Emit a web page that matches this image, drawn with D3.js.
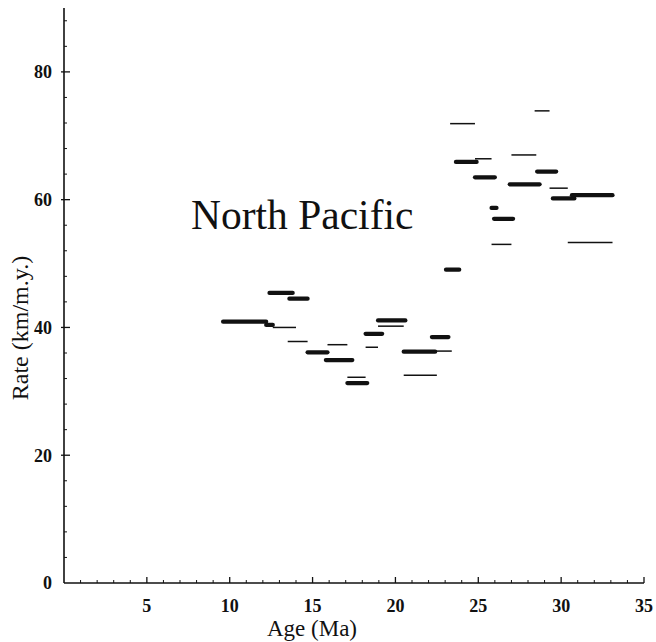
<!DOCTYPE html>
<html>
<head>
<meta charset="utf-8">
<script src="https://cdn.jsdelivr.net/npm/d3@7"></script>
<style>
  html, body { margin: 0; padding: 0; background: #fff; }
  svg { display: block; }
</style>
</head>
<body>
<svg id="chart" width="656" height="642"></svg>
<script>
// ---- data ----
const segStart = [9.6, 12.2, 12.6, 12.4, 13.6, 13.5, 14.7, 15.9, 15.8, 17.1, 17.1, 18.2, 18.2, 18.95, 18.95, 20.5, 22.4, 20.5, 22.2, 23.05, 23.3, 23.65, 24.8, 24.8, 25.8, 25.95, 25.8, 26.9, 27.0, 28.4, 28.55, 29.3, 29.5, 30.65, 30.4];
const segEnd   = [12.2, 12.6, 14.0, 13.8, 14.7, 14.7, 15.9, 17.1, 17.4, 18.2, 18.3, 19.2, 18.95, 20.6, 20.5, 22.4, 23.4, 22.5, 23.2, 23.85, 24.8, 24.9, 25.8, 26.0, 26.1, 27.1, 27.0, 28.7, 28.5, 29.3, 29.7, 30.4, 30.8, 33.1, 33.1];
const segRate  = [40.9, 40.4, 40.0, 45.4, 44.5, 37.8, 36.1, 37.3, 34.9, 32.2, 31.3, 39.0, 36.9, 41.1, 40.2, 36.2, 36.3, 32.5, 38.5, 49.05, 71.9, 65.9, 66.4, 63.5, 58.7, 57.0, 53.0, 62.4, 67.0, 73.9, 64.4, 61.8, 60.2, 60.7, 53.3];
const segThick = [1, 1, 0, 1, 1, 0, 1, 0, 1, 0, 1, 1, 0, 1, 0, 1, 0, 0, 1, 1, 0, 1, 0, 1, 1, 1, 0, 1, 0, 0, 1, 0, 1, 1, 0];

const xMajorTicks = [5, 10, 15, 20, 25, 30, 35];
const yMajorTicks = [0, 20, 40, 60, 80];
const xDomain = [0, 35];
const yDomain = [0, 90];
const titleText = "North Pacific";
const xLabel = "Age (Ma)";
const yLabel = "Rate (km/m.y.)";

// ---- drawing ----
const svg = d3.select("#chart");
const mLeft = 64, mRight = 644, mTop = 8, mBottom = 583;

const x = d3.scaleLinear().domain(xDomain).range([mLeft, mRight]);
const y = d3.scaleLinear().domain(yDomain).range([mBottom, mTop]);

const ink = "#111";

// axes lines
svg.append("line").attr("x1", mLeft).attr("x2", mLeft).attr("y1", mTop).attr("y2", mBottom)
  .attr("stroke", ink).attr("stroke-width", 1.6);
svg.append("line").attr("x1", mLeft).attr("x2", mRight).attr("y1", mBottom).attr("y2", mBottom)
  .attr("stroke", ink).attr("stroke-width", 1.6);

// x minor ticks (every 1 unit) and major ticks
const xMinor = d3.range(1, 36).filter(v => v % 5 !== 0);
svg.append("g").selectAll("line").data(xMinor).join("line")
  .attr("x1", d => x(d)).attr("x2", d => x(d))
  .attr("y1", mBottom).attr("y2", mBottom - 3)
  .attr("stroke", ink).attr("stroke-width", 1);
svg.append("g").selectAll("line").data(xMajorTicks).join("line")
  .attr("x1", d => x(d)).attr("x2", d => x(d))
  .attr("y1", mBottom).attr("y2", mBottom - 6)
  .attr("stroke", ink).attr("stroke-width", 1.3);

// y minor ticks (every 4 units) and major
const yMinor = d3.range(4, 90, 4).filter(v => v % 20 !== 0);
svg.append("g").selectAll("line").data(yMinor).join("line")
  .attr("x1", mLeft).attr("x2", mLeft + 3)
  .attr("y1", d => y(d)).attr("y2", d => y(d))
  .attr("stroke", ink).attr("stroke-width", 1);
svg.append("g").selectAll("line").data(yMajorTicks.filter(v => v > 0)).join("line")
  .attr("x1", mLeft - 3).attr("x2", mLeft + 6)
  .attr("y1", d => y(d)).attr("y2", d => y(d))
  .attr("stroke", ink).attr("stroke-width", 1.3);

// tick labels
const serif = "'Liberation Serif', 'Times New Roman', serif";
svg.append("g").selectAll("text").data(xMajorTicks).join("text")
  .attr("x", d => x(d)).attr("y", 612)
  .attr("text-anchor", "middle")
  .attr("font-family", serif).attr("font-weight", "bold").attr("font-size", 18)
  .attr("fill", ink)
  .text(d => d);
svg.append("g").selectAll("text").data(yMajorTicks).join("text")
  .attr("x", 52).attr("y", d => y(d))
  .attr("dy", "0.35em")
  .attr("text-anchor", "end")
  .attr("font-family", serif).attr("font-weight", "bold").attr("font-size", 18)
  .attr("fill", ink)
  .text(d => d);

// axis titles
svg.append("text")
  .attr("x", 312).attr("y", 636)
  .attr("text-anchor", "middle")
  .attr("font-family", serif).attr("font-size", 23)
  .attr("fill", ink)
  .text(xLabel);
svg.append("text")
  .attr("transform", "translate(28,328) rotate(-90)")
  .attr("text-anchor", "middle")
  .attr("font-family", serif).attr("font-size", 24)
  .attr("fill", ink)
  .text(yLabel);

// chart title inside plot
svg.append("text")
  .attr("x", 191).attr("y", 229)
  .attr("font-family", serif).attr("font-size", 41.5)
  .attr("fill", ink)
  .text(titleText);

// segments
const segs = segStart.map((s, i) => ({ s, e: segEnd[i], r: segRate[i], t: segThick[i] }));
svg.append("g").selectAll("line").data(segs).join("line")
  .attr("x1", d => x(d.s)).attr("x2", d => x(d.e))
  .attr("y1", d => y(d.r)).attr("y2", d => y(d.r))
  .attr("stroke", ink)
  .attr("stroke-width", d => d.t ? 4.2 : 1.5)
  .attr("stroke-linecap", d => d.t ? "round" : "butt");
</script>
</body>
</html>
